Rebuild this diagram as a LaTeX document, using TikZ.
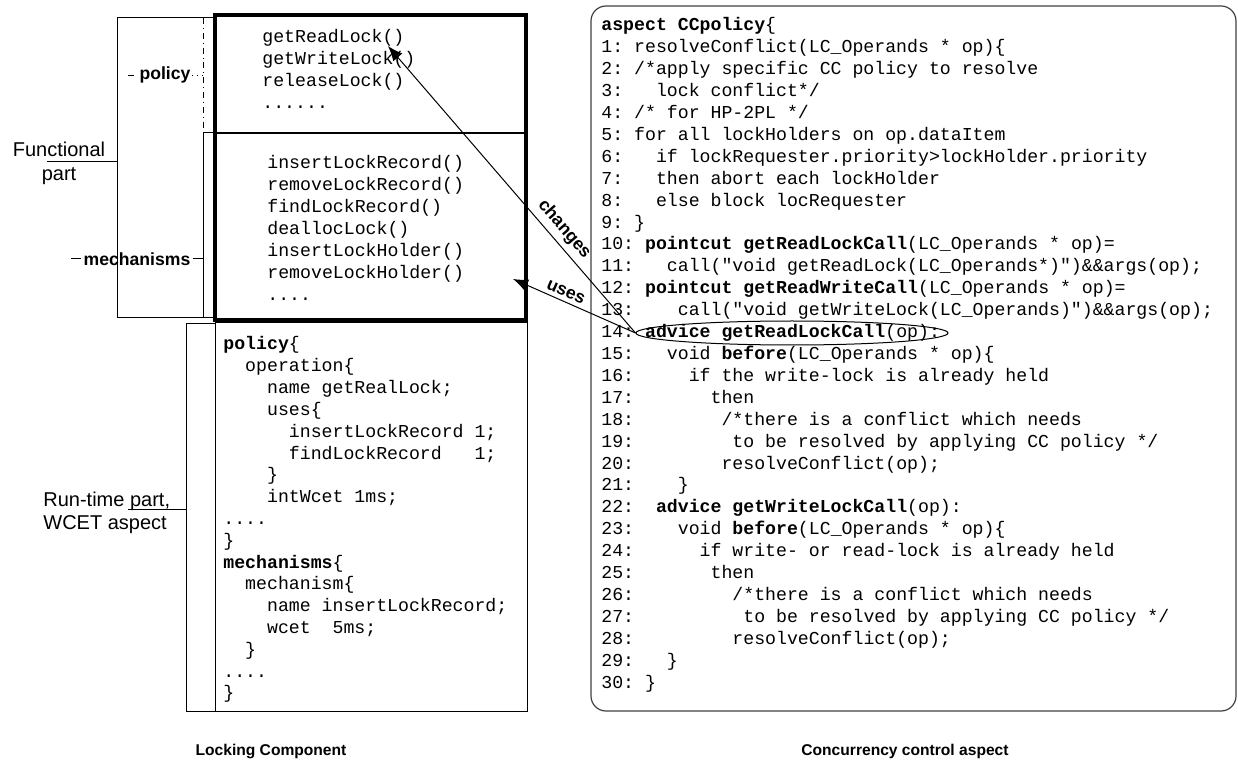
\documentclass[tikz,border=0pt]{standalone}
\usepackage{fontspec}
\setmainfont{Liberation Sans}
\setsansfont{Liberation Sans}
\setmonofont{Liberation Mono}
\usetikzlibrary{arrows.meta,shapes.geometric}
\newcommand\codefont{\ttfamily\frenchspacing\fontsize{9.1pt}{10.95pt}\selectfont}
\newcommand\codeln[4]{\node[code] (#1) at (#2,#3) {#4};}
\begin{document}
\begin{tikzpicture}[x=0.5pt,y=-0.5pt,
  code/.style={anchor=base west,inner sep=0pt,font=\codefont},
  lbl/.style={font=\sffamily\fontsize{10pt}{12pt}\selectfont,inner sep=0pt},
  tag/.style={font=\sffamily\bfseries\fontsize{8.8pt}{10pt}\selectfont,inner sep=1pt},
  caption/.style={font=\sffamily\bfseries\fontsize{7.8pt}{9pt}\selectfont,inner sep=0pt},
  arr/.style={-{Latex[length=7.5pt,width=6pt]},line width=0.5pt},
  thin line/.style={line width=0.5pt}]
\useasboundingbox (0,0) rectangle (1238,775);

% ---------- Locking component boxes ----------
\draw[line width=2pt] (215,15) rectangle (526,320);
\draw[line width=0.6pt] (215,133) -- (526,133);
\draw[thin line] (215,323) rectangle (527,711);
% brackets
\draw[thin line] (215,18) -- (117,18) -- (117,318) -- (215,318);
\draw[line width=0.4pt,dash dot] (203,18) -- (203,133);
\draw[thin line] (203,318) -- (203,133) -- (215,133);
\draw[thin line] (47,162) -- (117,162);
\draw[thin line] (215,324) -- (186,324) -- (186,711) -- (215,711);
\draw[thin line] (128,509) -- (186,509);

% labels on the left
\draw[line width=0.4pt,dash dot] (128,75) -- (203,75);
\node[tag,fill=white] (pol) at (165,75) {policy};
\node[tag] (mech) at (137,259) {mechanisms};
\draw[thin line] (71,259) -- (mech.west);
\draw[thin line] (mech.east) -- (203,259);
\node[lbl,align=center] (func) at (59,163) {Functional\\part};
\node[lbl,align=left,anchor=west,font=\sffamily\fontsize{10pt}{11.5pt}\selectfont] (rt) at (43,513) {Run-time part,\\WCET aspect};

% upper box text
\codeln{p1}{262}{43}{getReadLock()}
\codeln{p2}{262}{65}{getWriteLock()}
\codeln{p3}{262}{87}{releaseLock()}
\codeln{p4}{262}{109}{......}
\codeln{m1}{267}{169}{insertLockRecord()}
\codeln{m2}{267}{190.9}{removeLockRecord()}
\codeln{m3}{267}{212.8}{findLockRecord()}
\codeln{m4}{267}{234.7}{deallocLock()}
\codeln{m5}{267}{256.6}{insertLockHolder()}
\codeln{m6}{267}{278.5}{removeLockHolder()}
\codeln{m7}{267}{300.4}{....}

% lower box text
\codeln{w0}{223}{350}{\textbf{policy}\{}
\codeln{w1}{223}{371.8}{~~operation\{}
\codeln{w2}{223}{393.6}{~~~~name getRealLock;}
\codeln{w3}{223}{415.4}{~~~~uses\{}
\codeln{w4}{223}{437.2}{~~~~~~insertLockRecord 1;}
\codeln{w5}{223}{459}{~~~~~~findLockRecord~~~1;}
\codeln{w6}{223}{480.8}{~~~~\}}
\codeln{w7}{223}{502.6}{~~~~intWcet 1ms;}
\codeln{w8}{223}{524.4}{....}
\codeln{w9}{223}{546.2}{\}}
\codeln{w10}{223}{568}{\textbf{mechanisms}\{}
\codeln{w11}{223}{589.8}{~~mechanism\{}
\codeln{w12}{223}{611.6}{~~~~name insertLockRecord;}
\codeln{w13}{223}{633.4}{~~~~wcet~~5ms;}
\codeln{w14}{223}{655.2}{~~\}}
\codeln{w15}{223}{677}{....}
\codeln{w16}{223}{698.8}{\}}

% ---------- Concurrency control aspect ----------
\draw[line width=0.6pt,black!75,rounded corners=7.5pt] (591,6) rectangle (1236,711);
\codeln{a0}{601}{31}{\textbf{aspect CCpolicy}\{}
\codeln{a1}{601}{52.9}{1: resolveConflict(LC\_Operands * op)\{}
\codeln{a2}{601}{74.8}{2: /*apply specific CC policy to resolve}
\codeln{a3}{601}{96.7}{3:~~~lock conflict*/}
\codeln{a4}{601}{118.6}{4: /* for HP-2PL */}
\codeln{a5}{601}{140.5}{5: for all lockHolders on op.dataItem}
\codeln{a6}{601}{162.4}{6:~~~if lockRequester.priority>lockHolder.priority}
\codeln{a7}{601}{184.3}{7:~~~then abort each lockHolder}
\codeln{a8}{601}{206.2}{8:~~~else block locRequester}
\codeln{a9}{601}{228.1}{9: \}}
\codeln{a10}{601}{250}{10: \textbf{pointcut getReadLockCall}(LC\_Operands * op)=}
\codeln{a11}{601}{271.9}{11:~~~call("void getReadLock(LC\_Operands*)")\&\&args(op);}
\codeln{a12}{601}{293.8}{12: \textbf{pointcut getReadWriteCall}(LC\_Operands * op)=}
\codeln{a13}{601}{315.7}{13:~~~~call("void getWriteLock(LC\_Operands)")\&\&args(op);}
\codeln{a14}{601}{337.6}{14: \textbf{advice getReadLockCall}(op):}
\codeln{a15}{601}{359.5}{15:~~~void \textbf{before}(LC\_Operands * op)\{}
\codeln{a16}{601}{381.4}{16:~~~~~if the write-lock is already held}
\codeln{a17}{601}{403.3}{17:~~~~~~~then}
\codeln{a18}{601}{425.2}{18:~~~~~~~~/*there is a conflict which needs}
\codeln{a19}{601}{447.1}{19:~~~~~~~~~to be resolved by applying CC policy */}
\codeln{a20}{601}{469}{20:~~~~~~~~resolveConflict(op);}
\codeln{a21}{601}{490.9}{21:~~~~\}}
\codeln{a22}{601}{512.8}{22:~~\textbf{advice getWriteLockCall}(op):}
\codeln{a23}{601}{534.7}{23:~~~~void \textbf{before}(LC\_Operands * op)\{}
\codeln{a24}{601}{556.6}{24:~~~~~~if write- or read-lock is already held}
\codeln{a25}{601}{578.5}{25:~~~~~~~then}
\codeln{a26}{601}{600.4}{26:~~~~~~~~~/*there is a conflict which needs}
\codeln{a27}{601}{622.3}{27:~~~~~~~~~~to be resolved by applying CC policy */}
\codeln{a28}{601}{644.2}{28:~~~~~~~~~resolveConflict(op);}
\codeln{a29}{601}{666.1}{29:~~~\}}
\codeln{a30}{601}{688}{30: \}}

% ellipse and arrows
\node[draw,ellipse,line width=0.5pt,minimum width=156pt,minimum height=12pt,inner sep=0pt] (adv) at (792,333) {};
\coordinate (chgtip) at (388,46);
\coordinate (usetip) at (513,279);
\draw[arr] (adv.west) -- node[tag,sloped,above=1.5pt,pos=0.33] (chg) {changes} (chgtip);
\draw[arr] (adv.west) -- node[tag,sloped,above=1pt,pos=0.6] (use) {uses} (usetip);

% captions
\node[caption] (lcl) at (271,751) {Locking Component};
\node[caption] (cca) at (905,751) {Concurrency control aspect};
\end{tikzpicture}
\end{document}
